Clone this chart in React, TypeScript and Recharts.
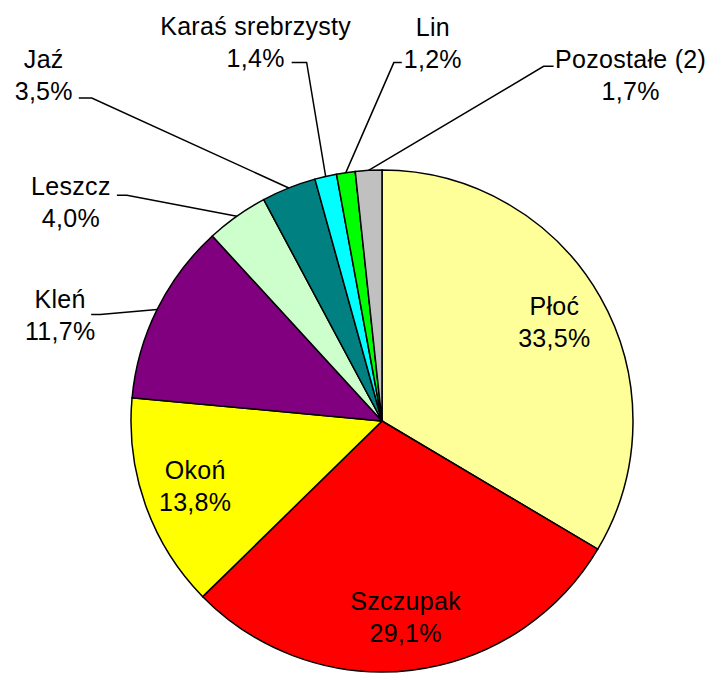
import { PieChart, Pie, Cell } from 'recharts';

const fishNames = ['Płoć', 'Szczupak', 'Okoń', 'Kleń', 'Leszcz', 'Jaź', 'Karaś srebrzysty', 'Lin', 'Pozostałe (2)'];
const shares = [33.5, 29.1, 13.8, 11.7, 4.0, 3.5, 1.4, 1.2, 1.7];
const sliceColors = ['#FFFF99', '#FF0000', '#FFFF00', '#800080', '#CCFFCC', '#008080', '#00FFFF', '#00FF00', '#C0C0C0'];

// where each outside label sits, relative to the point on the rim at the slice middle
// text = centre of the two-line label, bend/end = leader line elbow and stub end
const outsideLabels: Record<number, { text: [number, number]; bend: [number, number]; end: [number, number] }> = {
    3: { text: [-97, 7], bend: [-57, 5], end: [-66, 5] },
    4: { text: [-166, -13], bend: [-110, -21], end: [-120, -21] },
    5: { text: [-245, -112], bend: [-197, -90], end: [-210, -90] },
    6: { text: [-70, -133], bend: [-19, -114], end: [-34, -114] },
    7: { text: [87, -129], bend: [48, -110], end: [56, -110] },
    8: { text: [262, -94], bend: [175, -104], end: [185, -104] },
};

const data = fishNames.map((name, i) => ({ name, value: shares[i] }));

const RADIAN = Math.PI / 180;
const FONT = '"Liberation Sans", Arial, sans-serif';
const LINE_GAP = 32;

const fmt = (v: number) => `${v.toFixed(1).replace('.', ',')}%`;

function renderLabel(props: any) {
    const { cx, cy, midAngle, outerRadius, index } = props;
    const cos = Math.cos(-midAngle * RADIAN);
    const sin = Math.sin(-midAngle * RADIAN);
    const spot = outsideLabels[index];

    let tx: number;
    let ty: number;
    let line = null;

    if (!spot) {
        const r = outerRadius * 0.79;
        tx = cx + r * cos;
        ty = cy + r * sin;
    } else {
        const ex = cx + outerRadius * cos;
        const ey = cy + outerRadius * sin;
        tx = ex + spot.text[0];
        ty = ey + spot.text[1];
        const pts = [
            [ex, ey],
            [ex + spot.bend[0], ey + spot.bend[1]],
            [ex + spot.end[0], ey + spot.end[1]],
        ];
        line = (
            <polyline
                points={pts.map((p) => p.join(',')).join(' ')}
                fill="none"
                stroke="#000"
                strokeWidth={1.5}
            />
        );
    }

    return (
        <g key={`lbl-${index}`}>
            {line}
            <text
                x={tx}
                y={ty}
                textAnchor="middle"
                fontFamily={FONT}
                fontSize={25}
                letterSpacing={0.3}
                fill="#000"
            >
                <tspan x={tx} y={ty - LINE_GAP / 2 - 1} dominantBaseline="central">
                    {fishNames[index]}
                </tspan>
                <tspan x={tx} y={ty + LINE_GAP / 2 - 1} dominantBaseline="central">
                    {fmt(shares[index])}
                </tspan>
            </text>
        </g>
    );
}

export default function App() {
    return (
        <div style={{ position: 'absolute', left: 0, top: 0, width: 719, height: 673, background: '#fff' }}>
            <PieChart width={719} height={673} margin={{ top: 0, right: 0, bottom: 0, left: 0 }}>
                <Pie
                    data={data}
                    dataKey="value"
                    nameKey="name"
                    cx={382}
                    cy={421}
                    outerRadius={251}
                    startAngle={90}
                    endAngle={-270}
                    stroke="#000"
                    strokeWidth={1.5}
                    label={renderLabel}
                    labelLine={false}
                    isAnimationActive={false}
                >
                    {data.map((d, i) => (
                        <Cell key={d.name} fill={sliceColors[i]} />
                    ))}
                </Pie>
            </PieChart>
        </div>
    );
}
